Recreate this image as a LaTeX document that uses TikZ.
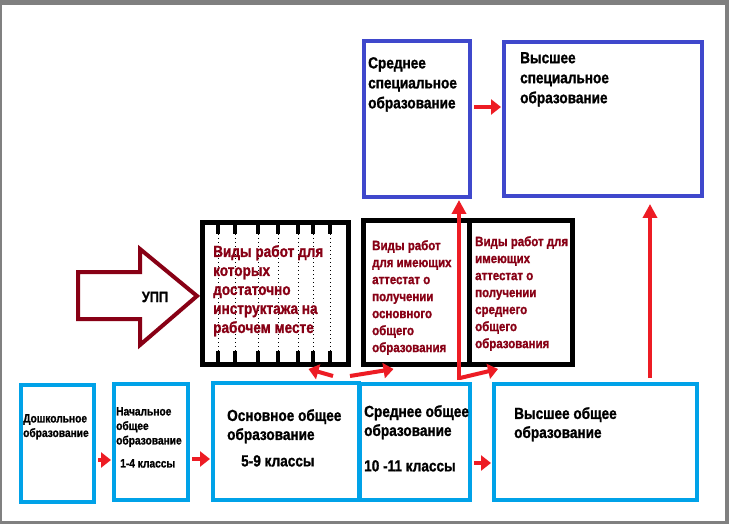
\documentclass[tikz,border=0pt]{standalone}
\usepackage{fontspec}
\setmainfont{Liberation Sans}[FakeStretch=0.85,BoldFeatures={FakeBold=1.2}]
\usetikzlibrary{arrows.meta}
\definecolor{paintcyan}{HTML}{00A2E8}
\definecolor{paintblue}{HTML}{3F48CC}
\definecolor{paintred}{HTML}{ED1C24}
\definecolor{darkred}{HTML}{880015}
\tikzset{
  lowbox/.style={draw=paintcyan,line width=4pt,inner sep=0pt},
  topbox/.style={draw=paintblue,line width=4pt,inner sep=0pt},
  jobbox/.style={draw=black,line width=5pt,inner sep=0pt},
  bigtxt/.style={anchor=north west,inner sep=0pt,align=left,font=\bfseries\fontsize{16}{19}\selectfont},
  midtxt/.style={anchor=north west,inner sep=0pt,align=left,font=\bfseries\fontsize{13.5}{17}\selectfont},
  smalltxt/.style={anchor=north west,inner sep=0pt,align=left,font=\bfseries\fontsize{12}{14.5}\selectfont},
  redarr/.style={draw=paintred,line width=4pt,-{Triangle[length=10pt,width=15pt]}},
  uparr/.style={draw=paintred,line width=4pt,-{Triangle[length=14pt,width=14pt]}}
}

\begin{document}
\begin{tikzpicture}[x=1pt,y=-1pt]
\fill[gray] (0,0) rectangle (729,524);
\fill[white] (2,5) rectangle (725,521);
% bottom row
\node[lowbox,minimum width=73pt,minimum height=117pt] (doshk) at (57.5,443.5) {};
\node[lowbox,minimum width=74pt,minimum height=116pt] (nach) at (151,442) {};
\node[lowbox,minimum width=146pt,minimum height=117pt] (osn) at (286,441.5) {};
\node[lowbox,minimum width=110pt,minimum height=116pt] (sred) at (415,442) {};
\node[lowbox,minimum width=203pt,minimum height=116pt] (vyssh) at (595.5,442) {};
% top row
\node[topbox,minimum width=106pt,minimum height=156pt] (sspec) at (417,119) {};
\node[topbox,minimum width=198pt,minimum height=154pt] (vspec) at (603,119) {};
% kinds of work
\foreach \sx in {218,235,258,278,298,313,330} {
  \draw[line width=4pt] (\sx,222) -- (\sx,234);
  \draw[line width=4pt] (\sx,351) -- (\sx,365);
  \draw[line width=1pt,dash pattern=on 1pt off 3pt] (\sx,234) -- (\sx,351);
}
\node[jobbox,minimum width=146pt,minimum height=142pt] (instr) at (275.5,293.5) {};
\node[jobbox,minimum width=106pt,minimum height=144pt] (attosn) at (416.5,292.5) {};
\node[jobbox,minimum width=103pt,minimum height=144pt] (attsr) at (521,292.5) {};
% UPP arrow
\draw[darkred,line width=4pt,line join=miter] (78,272) -- (140,272) -- (140,249) -- (197,296)
  -- (140,345) -- (140,319) -- (78,319) -- cycle;
\node[font=\bfseries\fontsize{15}{18}\selectfont,inner sep=0pt] (upp) at (155,297) {УПП};
% texts
\node[smalltxt] (t-doshk) at (23,414) {Дошкольное\\образование};
\node[smalltxt] (t-nach) at (116,407) {Начальное\\общее\\образование};
\node[smalltxt] (k-nach) at (120,459) {1-4 классы};
\node[bigtxt] (t-osn) at (227,409) {Основное общее\\образование};
\node[bigtxt] (k-osn) at (241,455) {5-9 классы};
\node[bigtxt] (t-sred) at (364,405) {Среднее общее\\образование};
\node[bigtxt] (k-sred) at (364,460) {10 -11 классы};
\node[bigtxt] (t-vyssh) at (514,407) {Высшее общее\\образование};
\node[bigtxt,font=\bfseries\fontsize{16}{20}\selectfont] (t-sspec) at (368,57) {Среднее\\специальное\\образование};
\node[bigtxt,font=\bfseries\fontsize{16}{20}\selectfont] (t-vspec) at (520,52) {Высшее\\специальное\\образование};
\node[bigtxt,text=darkred] (t-instr) at (213,245) {Виды работ для\\которых\\достаточно\\инструктажа на\\рабочем месте};
\node[midtxt,text=darkred] (t-attosn) at (372,240) {Виды работ\\для имеющих\\аттестат о\\получении\\основного\\общего\\образования};
\node[midtxt,text=darkred] (t-attsr) at (475,236) {Виды работ для\\имеющих\\аттестат о\\получении\\среднего\\общего\\образования};
% arrows
\draw[redarr] ([xshift=2pt,yshift=-16.5pt]doshk.east) -- ([xshift=-1pt,yshift=-18pt]nach.west);
\draw[redarr] ([xshift=2pt,yshift=-17pt]nach.east) -- ([xshift=-1pt,yshift=-17.5pt]osn.west);
\draw[redarr] ([xshift=2pt,yshift=-21pt]sred.east) -- ([xshift=-1pt,yshift=-21pt]vyssh.west);
\draw[redarr] ([xshift=2pt,yshift=12pt]sspec.east) -- ([xshift=-1pt,yshift=12pt]vspec.west);
\draw[uparr] ([xshift=44pt,yshift=2pt]sred.north) -- ([xshift=44pt,yshift=-1pt]sred.north |- sspec.south);
\draw[redarr] ([xshift=45pt,yshift=4pt]sred.north) -- ([xshift=-23pt,yshift=-2pt]attsr.south);
\draw[redarr] ([xshift=47pt,yshift=5pt]osn.north) -- ([xshift=33pt,yshift=-2pt]instr.south);
\draw[redarr] ([xshift=64pt,yshift=5pt]osn.north) -- ([xshift=-23pt,yshift=-2pt]attosn.south);
\draw[uparr] ([xshift=54.5pt,yshift=4pt]vyssh.north) -- ([xshift=47pt,yshift=-6pt]vspec.south);
\end{tikzpicture}
\end{document}
